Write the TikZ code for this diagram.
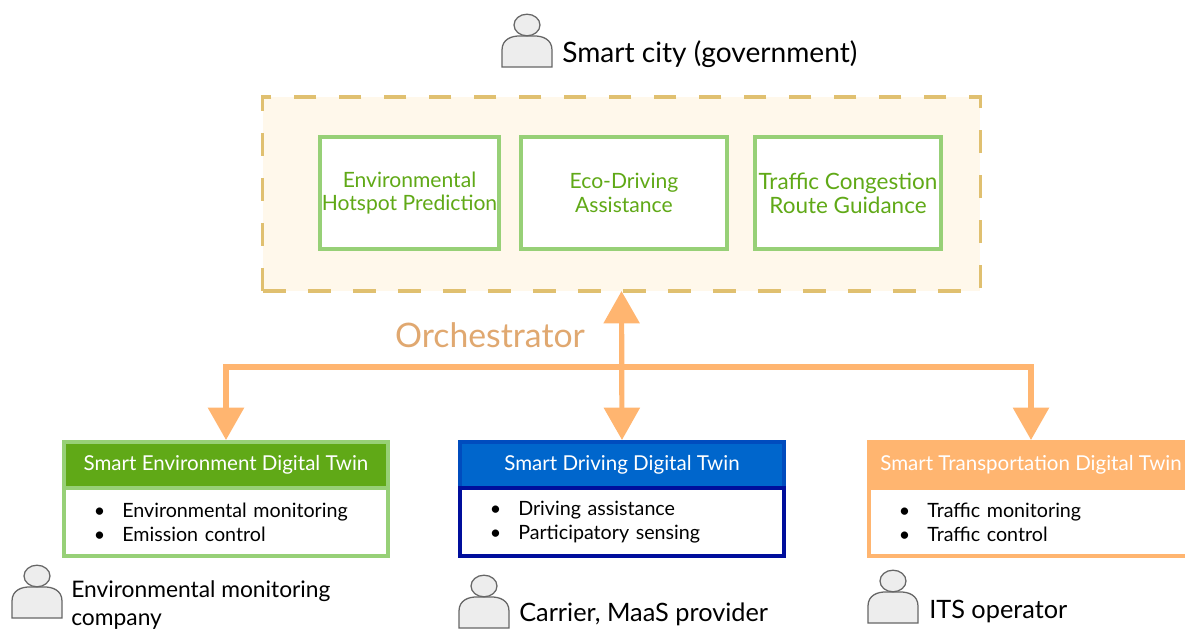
\documentclass[tikz,border=0pt]{standalone}
\usepackage{fontspec}
\setmainfont{Lato}
\usepackage{tikz}
\usetikzlibrary{arrows.meta}
\usetikzlibrary{calc}

\definecolor{leaf}{HTML}{60A917}
\definecolor{leaflight}{HTML}{97D077}
\definecolor{amber}{HTML}{FFB570}
\definecolor{clay}{HTML}{E0A870}
\definecolor{sand}{HTML}{E0C070}
\definecolor{cream}{HTML}{FFF8EB}
\definecolor{ocean}{HTML}{0066CC}
\definecolor{navy}{HTML}{000E9C}

\tikzset{
    service/.style={draw=leaflight, line width=2.8pt, fill=white, text=leaf, align=center, inner xsep=0pt, minimum height=2.8cm, font=\fontsize{15}{17}\selectfont},
    cardhead/.style={line width=2.8pt, outer sep=0pt, text=white, minimum width=8.1cm, minimum height=1.15cm, font=\fontsize{14.6}{16}\selectfont},
    cardbody/.style={draw, line width=2.8pt, outer sep=0pt, fill=white, align=left, text width=6.6cm, inner xsep=0.75cm, minimum width=8.1cm, minimum height=1.7cm, font=\fontsize{14}{17}\selectfont},
    role/.style={anchor=west, align=left, inner sep=0pt, font=\fontsize{16.2}{20}\selectfont},
    flow/.style={draw=amber, line width=3.7pt, >={Triangle[length=23pt,width=25pt]}},
    person/.pic={
        \draw[draw=black!60, fill=black!7, line width=0.9pt] (-25,0) -- (-25,-17) .. controls (-25,-28) and (-15,-31) .. (-8,-31) -- (8,-31) .. controls (15,-31) and (25,-28) .. (25,-17) -- (25,0) -- cycle;
        \draw[draw=black!60, fill=black!7, line width=0.9pt] (0,-42) ellipse [x radius=0.325cm, y radius=0.27cm];
    }
}

\begin{document}
\begin{tikzpicture}[x=0.025cm, y=-0.025cm, node distance=5.36cm, auto]

    \useasboundingbox (0,0) rectangle (1185,631);
    \clip (0,0) rectangle (1185,631);

    % Define nodes
    \node (frame) [draw=sand, fill=cream, dash pattern=on 16.2pt off 15.8pt, line width=2.2pt, outer sep=0pt, minimum width=17.925cm, minimum height=4.85cm] at (621.5,194) {};

    \node (hotspot) [service, minimum width=4.475cm] at (409.5,193) {Environmental\\Hotspot Prediction};
    \node (eco) [service, minimum width=5.15cm, right of=hotspot] {Eco-Driving\\Assistance};
    \node (traffic) [service, minimum width=4.65cm, right of=eco, node distance=5.6cm, font=\fontsize{16}{17}\selectfont] {Traffic Congestion\\Route Guidance};

    \node (orch) [text=clay, font=\fontsize{24}{28}\selectfont] at (490,335) {Orchestrator};
    \coordinate (hub) at (621,367);

    \node (envhead) [cardhead, draw=leaflight, fill=leaf] at (226,465) {Smart Environment Digital Twin};
    \node (envbody) [cardbody, draw=leaflight, anchor=north] at (envhead.south) {\textbullet\hspace{12pt}Environmental monitoring\\\textbullet\hspace{12pt}Emission control};

    \node (drvhead) [cardhead, draw=ocean!70!navy, fill=ocean] at (622,465) {Smart Driving Digital Twin};
    \node (drvbody) [cardbody, draw=navy, anchor=north] at (drvhead.south) {\textbullet\hspace{12pt}Driving assistance\\\textbullet\hspace{12pt}Participatory sensing};

    \node (trphead) [cardhead, draw=amber, fill=amber] at (1031,465) {Smart Transportation Digital Twin};
    \node (trpbody) [cardbody, draw=amber, anchor=north] at (trphead.south) {\textbullet\hspace{12pt}Traffic monitoring\\\textbullet\hspace{12pt}Traffic control};

    % People
    \pic at (527,67) {person};
    \node (city) [role, font=\fontsize{20}{24}\selectfont] at (562,54) {Smart city (government)};
    \pic at (37,618) {person};
    \node (company) [role] at (71,605) {Environmental monitoring\\company};
    \pic at (484,628) {person};
    \node (carrier) [role, font=\fontsize{18}{20}\selectfont] at (519,614) {Carrier, MaaS provider};
    \pic at (893,623) {person};
    \node (operator) [role, font=\fontsize{18}{20}\selectfont] at (929,611) {ITS operator};

    % Draw arrows
    \draw[flow, <->, shorten >=1.4pt] (frame.south) -- (drvhead.north);
    \draw[flow, ->, shorten >=1.4pt] (hub) -| (envhead.north);
    \draw[flow, ->, shorten >=1.4pt] (hub) -| (trphead.north);

\end{tikzpicture}
\end{document}
